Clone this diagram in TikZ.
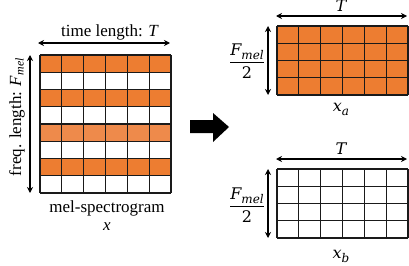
\documentclass[tikz,border=0pt]{standalone}
\usepackage{fontspec}
\setmainfont{Liberation Serif}
\newfontfamily\cmb{DejaVu Serif}
\usetikzlibrary{arrows.meta}
\definecolor{org}{HTML}{ED7D31}
\definecolor{orgl}{HTML}{EE8A4B}
\definecolor{gl}{HTML}{1A1A1A}
\newcommand{\ci}[1]{{\cmb\itshape #1}}
\newcommand{\cisub}[1]{\raisebox{-4pt}{\fontsize{12}{14}\selectfont\cmb\itshape #1}}
\newcommand{\fmelfrac}{$\displaystyle\frac{\hbox{\ci{F}\cisub{mel}}}{\hbox{\cmb 2}}$}
\begin{document}
\begin{tikzpicture}[x=1pt,y=-1pt,
  dim/.style={{Stealth[length=6pt,width=6pt]}-{Stealth[length=6pt,width=6pt]}, line width=1.1pt},
  gridline/.style={draw=gl, line width=1.3pt},
  lbl/.style={inner sep=0pt, font=\fontsize{17}{20}\selectfont},
  mlbl/.style={inner sep=0pt, font=\fontsize{16}{19}\selectfont}]
\useasboundingbox (0,0) rectangle (409,265);
% ---------- left grid (mel-spectrogram) ----------
\def\cw{21.8333}\def\ch{17.25}
\foreach \r in {0,2,6} \fill[org] (40,55+\r*\ch) rectangle ++(131,\ch);
\fill[orgl] (40,55+4*\ch) rectangle ++(131,\ch);
\foreach \i in {0,...,6} \draw[gridline] (40+\i*\cw,55) -- ++(0,138);
\foreach \j in {0,...,8} \draw[gridline] (40,55+\j*\ch) -- ++(131,0);
\coordinate (lh1) at (38,43); \coordinate (lh2) at (170,43);
\coordinate (lv1) at (30,55); \coordinate (lv2) at (30,193);
\draw[dim] (lh1) -- (lh2);
\draw[dim] (lv1) -- (lv2);
\node[lbl] (tl) at (110,32) {time length: \textit{T}};
\node[lbl, rotate=90] (fl) at (17,117) {freq. length: \textit{F}\textsubscript{\textit{mel}}};
\node[lbl] (ms) at (107,208) {mel-spectrogram};
\node[lbl] (xx) at (107,227) {\textit{x}};
% ---------- block arrow ----------
\fill[black] (190,120) -- (213,120) -- (213,113) -- (229,127) -- (213,142) -- (213,133) -- (190,133) -- cycle;
% ---------- top right grid x_a ----------
\fill[org] (277,26) rectangle ++(131,69);
\foreach \i in {0,...,6} \draw[gridline] (277+\i*\cw,26) -- ++(0,69);
\foreach \j in {0,...,4} \draw[gridline] (277,26+\j*\ch) -- ++(131,0);
\coordinate (ah1) at (276,16); \coordinate (ah2) at (407,16);
\coordinate (av1) at (268,26); \coordinate (av2) at (268,95);
\draw[dim] (ah1) -- (ah2);
\draw[dim] (av1) -- (av2);
\node[mlbl] (ta) at (341,6) {\ci{T}};
\node[mlbl] (fa) at (247,61) {\fmelfrac};
\node[mlbl] (xa) at (341,109) {\ci{x}\cisub{a}};
% ---------- bottom right grid x_b ----------
\foreach \i in {0,...,6} \draw[gridline] (277+\i*\cw,169) -- ++(0,69);
\foreach \j in {0,...,4} \draw[gridline] (277,169+\j*\ch) -- ++(131,0);
\coordinate (bh1) at (276,159); \coordinate (bh2) at (407,159);
\coordinate (bv1) at (268,169); \coordinate (bv2) at (268,238);
\draw[dim] (bh1) -- (bh2);
\draw[dim] (bv1) -- (bv2);
\node[mlbl] (tb) at (341,149) {\ci{T}};
\node[mlbl] (fb) at (247,205) {\fmelfrac};
\node[mlbl] (xb) at (341,256) {\ci{x}\cisub{b}};
\end{tikzpicture}
\end{document}
